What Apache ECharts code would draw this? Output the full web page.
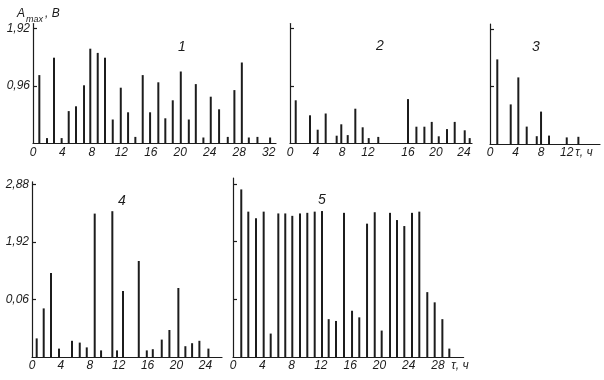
<!DOCTYPE html>
<html>
<head>
<meta charset="utf-8">
<script src="https://cdn.jsdelivr.net/npm/echarts@6/dist/echarts.min.js"></script>
<style>html,body{margin:0;padding:0;background:#fff}#c{width:604px;height:380px}</style>
</head>
<body>
<div id="c"></div>
<script>
// ---- data (τ in hours, A_max in volts) ----
const tau1 = [0.86,1.9,2.85,3.89,4.85,5.84,6.93,7.78,8.79,9.78,10.83,11.92,12.91,13.9,14.9,15.9,17.02,17.97,18.98,20.07,21.16,22.11,23.14,24.14,25.27,26.45,27.35,28.36,29.31,30.48,32.2];
const amp1 = [1.14,0.09,1.43,0.09,0.54,0.62,0.97,1.58,1.51,1.43,0.40,0.93,0.52,0.11,1.14,0.52,1.02,0.42,0.72,1.20,0.40,0.99,0.10,0.78,0.57,0.11,0.89,1.35,0.10,0.11,0.10];

const tau2a = [0.88,3.08,4.26,5.49,7.18,7.89,8.88,10.05,11.18,12.11,13.58];
const amp2a = [0.72,0.47,0.23,0.50,0.13,0.32,0.14,0.58,0.27,0.09,0.11];
const tau2b = [16,17.2,18.34,19.39,20.39,21.57,22.67,24.1,24.81];
const amp2b = [0.74,0.28,0.28,0.36,0.12,0.24,0.36,0.22,0.09];

const tau3 = [1.14,3.24,4.43,5.74,7.31,7.98,9.23,12.0,13.82];
const amp3 = [1.41,0.66,1.11,0.29,0.13,0.54,0.14,0.11,0.12];

const tau4 = [0.65,1.62,2.63,3.74,5.54,6.61,7.58,8.68,9.56,11.12,11.77,12.6,14.78,15.89,16.72,17.96,19.02,20.26,21.23,22.16,23.17,24.42];
const amp4 = [0.31,0.81,1.40,0.14,0.27,0.24,0.16,2.39,0.11,2.43,0.11,1.10,1.60,0.11,0.13,0.29,0.45,1.15,0.18,0.23,0.27,0.14];

const tau5 = [1.13,2.09,3.14,4.19,5.15,6.19,7.14,8.10,9.15,10.15,11.16,12.16,13.07,14.07,15.16,16.26,17.25,18.31,19.36,20.31,21.45,22.40,23.4,24.45,25.45,26.54,27.55,28.6,29.55];
const amp5 = [2.79,2.42,2.31,2.42,0.39,2.39,2.39,2.35,2.39,2.40,2.42,2.43,0.63,0.60,2.40,0.77,0.66,2.22,2.41,0.44,2.40,2.28,2.18,2.40,2.42,1.08,0.91,0.63,0.14];

// tick values and tick labels
const xTickVals1 = [0,4,8,12,16,20,24,28,32];
const xTickLab1  = ['0','4','8','12','16','20','24','28','32'];
const xTickVals2a = [0,4,8,12];
const xTickLab2a  = ['0','4','8','12'];
const xTickVals2b = [16,20,24];
const xTickLab2b  = ['16','20','24'];
const xTickVals3 = [0,4,8,12,14.7];
const xTickLab3  = ['0','4','8','12','τ, ч'];
const xTickVals4 = [0,4,8,12,16,20,24];
const xTickLab4  = ['0','4','8','12','16','20','24'];
const xTickVals5 = [0,4,8,12,16,20,24,28,31];
const xTickLab5  = ['0','4','8','12','16','20','24','28','τ, ч'];

const yTickValsTop = [0.96,1.92];
const yTickLabTop  = ['0,96','1,92'];
const yTickValsBot = [0.96,1.92,2.88];
const yTickLabBot  = ['0,06','1,92','2,88'];

const panelNames = ['1','2','3','4','5'];

// ---- styling ----
const INK = '#1c1c1c';
const FONT = 'Liberation Sans';
const lab = (vals, labs, extra) => Object.assign({
  show: true, customValues: vals, color: INK, fontFamily: FONT, fontStyle: 'italic',
  fontSize: 12, margin: 3,
  formatter: v => { const i = vals.indexOf(v); return i >= 0 ? labs[i] : ''; }
}, extra || {});

function xAxis(gi, min, max, vals, labs) {
  return {
    type: 'value', gridIndex: gi, min: min, max: max,
    axisLine: { show: true, onZero: false, lineStyle: { color: INK, width: 1.2 } },
    axisTick: { show: false },
    splitLine: { show: false },
    axisLabel: vals ? lab(vals, labs) : { show: false }
  };
}
function yAxis(gi, max, tickVals, labVals, labs, showLine) {
  return {
    type: 'value', gridIndex: gi, min: 0, max: max,
    axisLine: { show: showLine !== false, lineStyle: { color: INK, width: 1.2 } },
    axisTick: { show: !!tickVals, inside: true, length: 4, customValues: tickVals || [], lineStyle: { color: INK, width: 1.2 } },
    splitLine: { show: false },
    axisLabel: labVals ? lab(labVals, labs, { margin: 3 }) : { show: false }
  };
}
const pairs = (xs, ys) => xs.map((x, i) => [x, ys[i]]);
function bars(i, xs, ys) {
  return { type: 'bar', xAxisIndex: i, yAxisIndex: i, data: pairs(xs, ys), barWidth: 2,
    itemStyle: { color: INK }, silent: true };
}

const titleStyle = { color: INK, fontFamily: FONT, fontStyle: 'italic', fontSize: 14, fontWeight: 'normal' };

const option = {
  animation: false,
  backgroundColor: '#fff',
  title: [
    { text: '{a|A}{s|max}{a|, В}', left: 12, top: 3,
      textStyle: { fontWeight: 'normal', rich: {
        a: { fontFamily: FONT, fontStyle: 'italic', fontWeight: 'normal', fontSize: 12, color: INK, lineHeight: 16, verticalAlign: 'top' },
        s: { fontFamily: FONT, fontStyle: 'italic', fontWeight: 'normal', fontSize: 9, color: INK, lineHeight: 16, verticalAlign: 'bottom', padding: [0, 2, 0, 1] }
      } } },
    { text: panelNames[0], left: 173, top: 35, textStyle: titleStyle },
    { text: panelNames[1], left: 371, top: 34, textStyle: titleStyle },
    { text: panelNames[2], left: 527, top: 35, textStyle: titleStyle },
    { text: panelNames[3], left: 113, top: 189, textStyle: titleStyle },
    { text: panelNames[4], left: 313, top: 188, textStyle: titleStyle }
  ],
  grid: [
    { left: 33, top: 23.5, width: 243, height: 120 },
    { left: 290, top: 23.5, width: 104, height: 120 },
    { left: 394, top: 23.5, width: 78, height: 120 },
    { left: 490, top: 24, width: 110, height: 120 },
    { left: 32, top: 181.8, width: 190, height: 175.2 },
    { left: 233, top: 178, width: 230.6, height: 179 }
  ],
  xAxis: [
    xAxis(0, 0, 33, xTickVals1, xTickLab1),
    xAxis(1, 0, 16, xTickVals2a, xTickLab2a),
    xAxis(2, 14, 25.14, xTickVals2b, xTickLab2b),
    xAxis(3, 0, 17.2, xTickVals3, xTickLab3),
    xAxis(4, 0, 26.3, xTickVals4, xTickLab4),
    xAxis(5, 0, 31.5, xTickVals5, xTickLab5)
  ],
  yAxis: [
    yAxis(0, 2.0, yTickValsTop, yTickValsTop, yTickLabTop),
    yAxis(1, 2.0, yTickValsTop, null, null),
    yAxis(2, 2.0, null, null, null, false),
    yAxis(3, 2.0, yTickValsTop, null, null),
    yAxis(4, 2.92, yTickValsBot, yTickValsBot, yTickLabBot),
    yAxis(5, 2.98, yTickValsBot, null, null)
  ],
  series: [
    bars(0, tau1, amp1),
    bars(1, tau2a, amp2a),
    bars(2, tau2b, amp2b),
    bars(3, tau3, amp3),
    bars(4, tau4, amp4),
    bars(5, tau5, amp5)
  ]
};

const chart = echarts.init(document.getElementById('c'), null, { renderer: 'canvas' });
chart.setOption(option);
</script>
</body>
</html>
